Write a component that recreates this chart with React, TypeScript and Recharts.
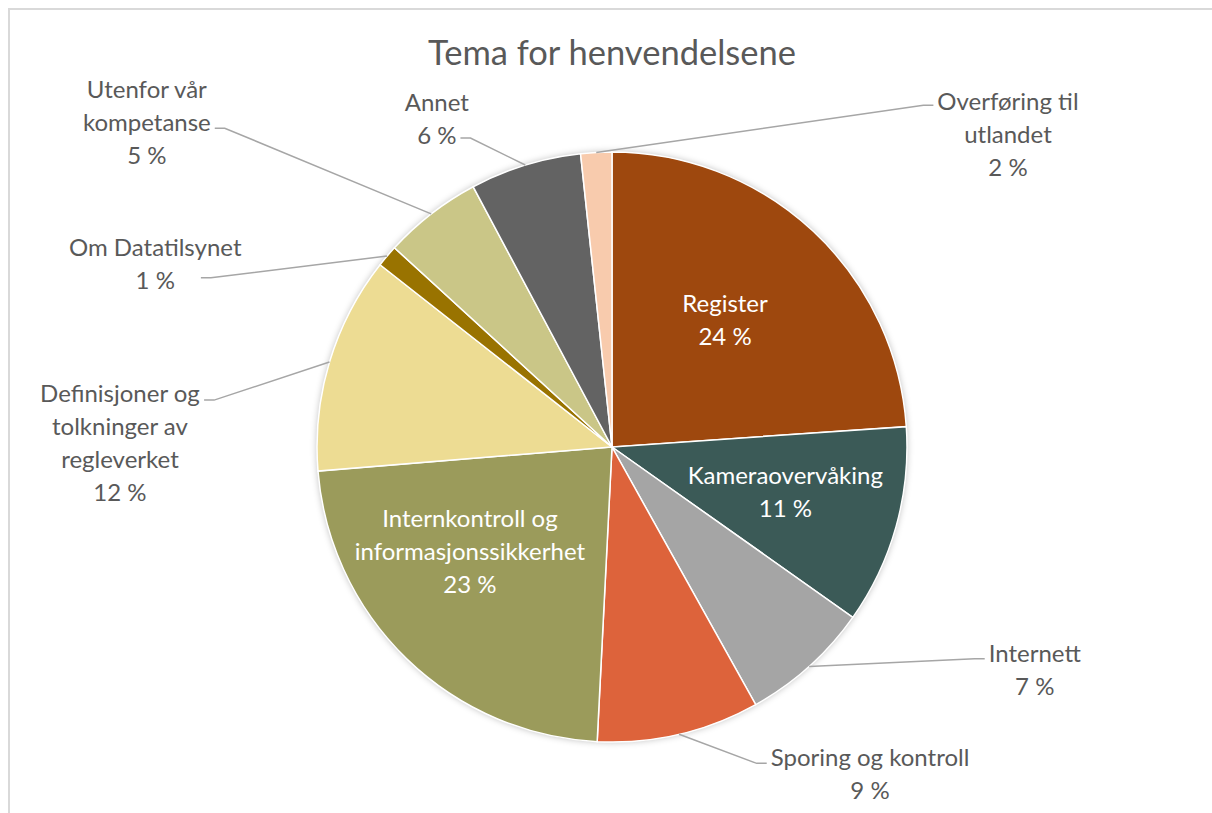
import React from 'react';
import { PieChart, Pie, Cell } from 'recharts';

const CATEGORIES = [
  'Register',
  'Kameraovervåking',
  'Internett',
  'Sporing og kontroll',
  'Internkontroll og informasjonssikkerhet',
  'Definisjoner og tolkninger av regleverket',
  'Om Datatilsynet',
  'Utenfor vår kompetanse',
  'Annet',
  'Overføring til utlandet',
];
// share of all enquiries, in percent
const SHARES = [23.9, 10.9, 7.1, 8.9, 22.9, 11.9, 1.2, 5.4, 6.1, 1.7];
const COLORS = [
  '#9E480E',
  '#3B5A57',
  '#A5A5A5',
  '#DD633B',
  '#9B9B5B',
  '#EDDC93',
  '#997300',
  '#CAC687',
  '#636363',
  '#F8CBAD',
];

// where each data label sits: radius as fraction of the pie, angle shift (deg, clockwise) from slice middle,
// attach = where on the label block the leader line ends (0 top .. 1 bottom), gap = space to the text
const LABEL_PLACE = [
  { inside: true, r: 0.578, shift: -1.5, attach: 0, gap: 0 },
  { inside: true, r: 0.606, shift: -1.5, attach: 0, gap: 0 },
  { inside: false, r: 1.618, shift: -20.4, attach: 0.35, gap: 4 },
  { inside: false, r: 1.41, shift: -25.2, attach: 0.35, gap: 4 },
  { inside: true, r: 0.596, shift: 9.8, attach: 0, gap: 0 },
  { inside: false, r: 1.668, shift: -16.2, attach: 0.18, gap: 4 },
  { inside: false, r: 1.669, shift: -18.4, attach: 0.72, gap: 26 },
  { inside: false, r: 1.925, shift: -17.2, attach: 0.57, gap: 4 },
  { inside: false, r: 1.265, shift: -10.9, attach: 0.81, gap: 4 },
  { inside: false, r: 1.713, shift: 54.65, attach: 0.22, gap: 4 },
];

const FONT = 'Lato, "Open Sans", sans-serif';
const LABEL_SIZE = 24;
const LH = 33;
const CX = 612;
const CY = 447;
const R = 295;
const RAD = Math.PI / 180;

const data = CATEGORIES.map((name, i) => ({ name, value: SHARES[i] }));

let ctx: CanvasRenderingContext2D | null = null;
const measure = (s: string) => {
  if (!ctx) ctx = document.createElement('canvas').getContext('2d');
  if (!ctx) return s.length * LABEL_SIZE * 0.5;
  ctx.font = `${LABEL_SIZE}px ${FONT}`;
  return ctx.measureText(s).width;
};

const wrap = (s: string, max = 21) => {
  const out: string[] = [];
  let cur = '';
  s.split(' ').forEach((w) => {
    const next = cur ? cur + ' ' + w : w;
    if (next.length > max && cur) {
      out.push(cur);
      cur = w;
    } else cur = next;
  });
  if (cur) out.push(cur);
  return out;
};

const renderLabel = (props: any) => {
  const { cx, cy, midAngle, outerRadius, percent, index, name } = props;
  const place = LABEL_PLACE[index];
  const lines = [...wrap(name), `${Math.round(percent * 100)} %`];
  const a = (midAngle - place.shift) * RAD;
  const r = outerRadius * place.r;
  const x = cx + r * Math.cos(a);
  const y = cy - r * Math.sin(a);
  const top = y - (lines.length * LH) / 2;
  const color = place.inside ? '#FFFFFF' : '#595959';

  const texts = lines.map((ln, i) => (
    <text
      key={i}
      x={x}
      y={top + LH * (i + 0.5)}
      textAnchor="middle"
      dominantBaseline="central"
      fill={color}
      fontSize={LABEL_SIZE}
      fontFamily={FONT}
    >
      {ln}
    </text>
  ));
  if (place.inside) return <g key={`lbl-${index}`}>{texts}</g>;

  const m = midAngle * RAD;
  const sx = cx + outerRadius * Math.cos(m);
  const sy = cy - outerRadius * Math.sin(m);
  const ey = top + place.attach * lines.length * LH;
  const li = Math.min(lines.length - 1, Math.floor(place.attach * lines.length));
  const half = measure(lines[li]) / 2;
  const left = x < sx;
  const ex = left ? x + half + place.gap : x - half - place.gap;
  const kx = left ? ex + 10 : ex - 10;

  return (
    <g key={`lbl-${index}`}>
      <polyline
        points={`${sx},${sy} ${kx},${ey} ${ex},${ey}`}
        fill="none"
        stroke="#A6A6A6"
        strokeWidth={1.5}
      />
      {texts}
    </g>
  );
};

export default function App() {
  return (
    <div style={{ position: 'relative', width: 1212, height: 813, overflow: 'hidden', background: '#fff' }}>
      <style>{'body{margin:0;overflow:hidden}'}</style>
      <div
        style={{
          position: 'absolute',
          left: 8,
          top: 8,
          width: 1204,
          height: 805,
          borderTop: '2px solid #D9D9D9',
          borderLeft: '2px solid #D9D9D9',
        }}
      />
      <div
        style={{
          position: 'absolute',
          left: CX - R,
          top: CY - R,
          width: R * 2,
          height: R * 2,
          borderRadius: '50%',
          boxShadow: '0 0 7px rgba(0,0,0,0.28)',
        }}
      />
      <div
        style={{
          position: 'absolute',
          left: CX - 300,
          top: 31,
          width: 600,
          textAlign: 'center',
          fontFamily: FONT,
          fontSize: 34.5,
          lineHeight: '42px',
          color: '#595959',
        }}
      >
        Tema for henvendelsene
      </div>
      <div style={{ position: 'absolute', left: 0, top: 0 }}>
        <PieChart width={1212} height={813} margin={{ top: 0, right: 0, bottom: 0, left: 0 }}>
          <Pie
            data={data}
            dataKey="value"
            nameKey="name"
            cx={CX}
            cy={CY}
            outerRadius={R}
            startAngle={90}
            endAngle={-270}
            stroke="#FFFFFF"
            strokeWidth={1.5}
            label={renderLabel}
            labelLine={false}
            isAnimationActive={false}
          >
            {data.map((d, i) => (
              <Cell key={d.name} fill={COLORS[i]} />
            ))}
          </Pie>
        </PieChart>
      </div>
    </div>
  );
}
